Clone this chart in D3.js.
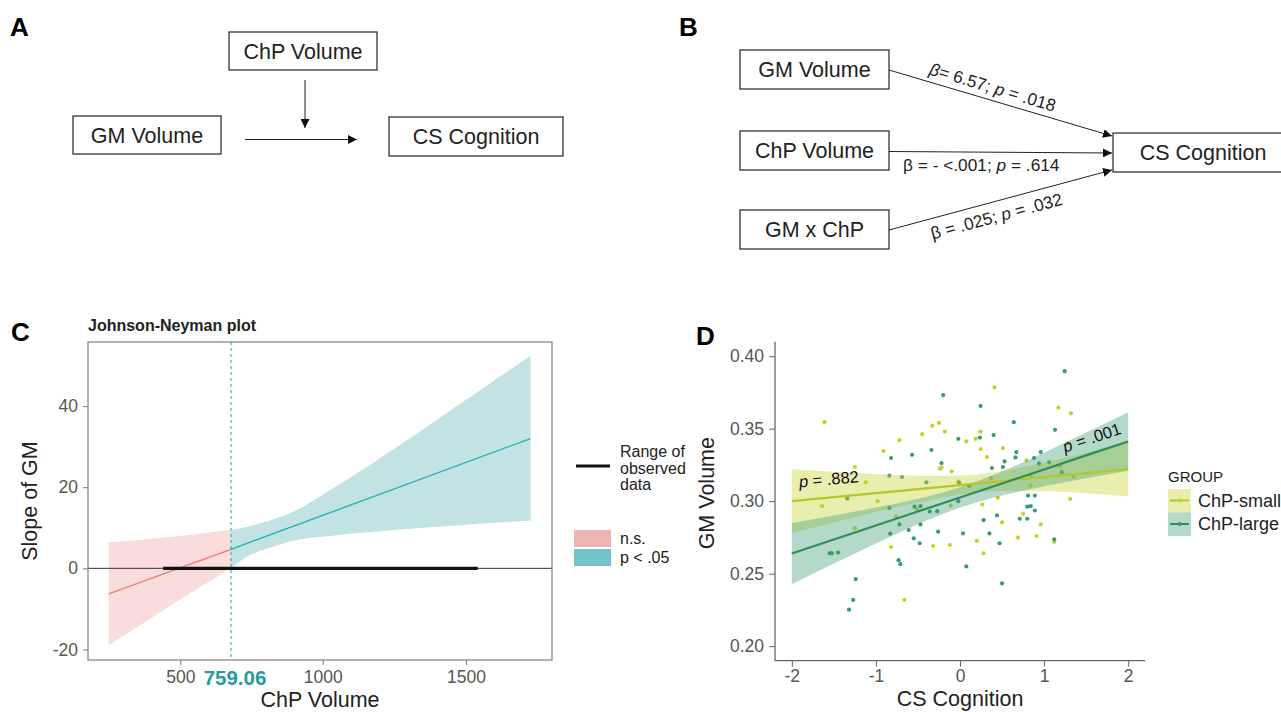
<!DOCTYPE html>
<html>
<head>
<meta charset="utf-8">
<script src="https://cdnjs.cloudflare.com/ajax/libs/d3/7.8.5/d3.min.js"></script>
<style>
  body { margin: 0; background: #fff; }
  svg { display: block; font-family: "Liberation Sans", Arial, sans-serif; }
</style>
</head>
<body>
<svg width="1281" height="712"></svg>
<script>
//// DATA ////

// panel C : Johnson-Neyman (slope of GM over ChP volume)
var jnBoundary = 759.06;
var nsX = [250, 323, 500, 759.06];
var nsLower = [-18.9, -15.7, -7.7, 0];
var nsUpper = [6.4, 6.8, 8.0, 9.5];
var sigX = [759.06, 809, 843, 932, 1026, 1260, 1490, 1725];
var sigLower = [0, 3.3, 4.5, 7.0, 8.0, 9.5, 10.7, 11.8];
var sigUpper = [9.5, 10.4, 11.3, 14.4, 19.3, 30.0, 41.1, 52.4];
var slopeX = [250, 759.06, 1725];
var slopeEst = [-6.3, 4.7, 32.0];
var observedRange = [440, 1541];
var cXTicks = [500, 1000, 1500];
var cYTicks = [-20, 0, 20, 40];

// panel D : GM volume vs CS cognition by group
var groups = ["ChP-small", "ChP-large"];
var bandX = [-2, -1.5, -1, -0.5, 0, 0.5, 1, 1.5, 2];
var smallFit = [0.300, 0.3028, 0.3056, 0.3083, 0.3111, 0.3139, 0.3167, 0.3194, 0.3222];
var smallLo = [0.278, 0.2853, 0.2925, 0.2991, 0.3045, 0.3070, 0.3068, 0.3054, 0.3032];
var smallHi = [0.322, 0.3203, 0.3187, 0.3175, 0.3177, 0.3208, 0.3266, 0.3334, 0.3412];
var largeFit = [0.2639, 0.2736, 0.2832, 0.2929, 0.3026, 0.3122, 0.3219, 0.3316, 0.3412];
var largeLo = [0.2428, 0.2570, 0.2708, 0.2841, 0.2956, 0.3039, 0.3103, 0.3159, 0.3210];
var largeHi = [0.2850, 0.2902, 0.2956, 0.3017, 0.3096, 0.3205, 0.3335, 0.3473, 0.3614];

var smallX = [-1.61, -0.33, -0.25, -0.18, -0.45, -0.72, -0.91, -0.24, -0.22, -0.10, -1.25, -1.12, -1.64,
  -0.98, -0.51, -0.76, -1.25, -0.82, -0.32, -0.12, -1.52, -0.66, 0.41, 1.17, 1.32, 0.245, 0.075, 0.186,
  0.245, 0.51, 0.32, 0.79, 1.28, 1.19, 0.84, 0.37, 1.35, 1.31, 0.75, 0.96, 0.69, 0.91, 1.12, 0.265, 0.45,
  0.28, 0.50, 0.20, 0.28, -0.02, -0.11, 0.84];
var smallY = [0.3545, 0.3521, 0.354, 0.348, 0.3462, 0.3421, 0.3346, 0.3224, 0.3231, 0.3206, 0.3236, 0.313, 0.2966,
  0.300, 0.2943, 0.2893, 0.2813, 0.2684, 0.2691, 0.2698, 0.264, 0.2319, 0.3785, 0.3645, 0.3606, 0.348, 0.3412, 0.343,
  0.336, 0.3366, 0.3305, 0.3281, 0.340, 0.3245, 0.3176, 0.316, 0.3171, 0.3016, 0.2914, 0.284, 0.2749, 0.276, 0.2719, 0.2977, 0.3023,
  0.287, 0.2854, 0.2726, 0.2641, 0.3135, 0.297, 0.311];
var largeX = [-0.20, -0.02, -0.34, -0.57, -0.82, -0.22, -0.84, -0.69, -0.40, -1.34, -0.84, -0.54, -0.47, -0.36,
  -0.27, -0.72, -0.47, -0.83, -0.61, -0.26, -0.55, -0.48, -1.55, -1.53, -1.45, -0.73, -0.71, -1.24, -1.27, -1.32,
  1.245, 0.245, 0.64, 1.13, 0.237, 0.40, 0.67, 0.66, 0.53, 0.88, 0.96, 0.94, 1.06, 0.38, 0.51, 1.21, -0.01, 0.11,
  0.81, 0.89, 0.80, 0.84, 0.89, 0.71, 0.80, 1.12, 0.50, 0.44, 0.28, 0.036, 0.35, 0.47, 0.075, -0.02];
var largeY = [0.3732, 0.343, 0.3353, 0.332, 0.3298, 0.3263, 0.3176, 0.3167, 0.313, 0.3019, 0.2954, 0.2962, 0.2966, 0.2929,
  0.2931, 0.284, 0.284, 0.2776, 0.2801, 0.279, 0.2744, 0.271, 0.2641, 0.2641, 0.2646, 0.2593, 0.2566, 0.2463, 0.2319, 0.2252,
  0.3897, 0.3657, 0.3545, 0.3492, 0.3439, 0.3456, 0.3339, 0.3302, 0.3274, 0.3298, 0.3339, 0.3259, 0.3268, 0.3229, 0.3236, 0.320, 0.3126, 0.3108,
  0.3039, 0.3039, 0.2962, 0.2966, 0.2936, 0.2879, 0.2879, 0.2737, 0.2433, 0.2902, 0.287, 0.2778, 0.2778, 0.271, 0.255, 0.300];
var dXTicks = [-2, -1, 0, 1, 2];
var dYTicks = [0.20, 0.25, 0.30, 0.35, 0.40];

var svg = d3.select("svg");
svg.append("rect").attr("width", 1281).attr("height", 712).attr("fill", "#fff");

// plain hyphen minus like the original figure
function hyphen(fmt) {
    return function (d) { return fmt(d).replace("\u2212", "-"); };
}

// arrow head marker
svg.append("defs").append("marker")
    .attr("id", "arrow")
    .attr("viewBox", "0 0 10 10")
    .attr("refX", 10).attr("refY", 5)
    .attr("markerWidth", 9).attr("markerHeight", 9)
    .attr("markerUnits", "userSpaceOnUse")
    .attr("orient", "auto")
    .append("path").attr("d", "M0,0 L10,5 L0,10 z").attr("fill", "#111");

// panel letters
[["A", 10, 36], ["B", 679, 36], ["C", 11, 341], ["D", 696, 345]].forEach(function (l) {
    svg.append("text").attr("x", l[1]).attr("y", l[2])
        .attr("font-size", 26).attr("font-weight", "bold").text(l[0]);
});

function box(x, y, w, h, label) {
    svg.append("rect").attr("x", x).attr("y", y).attr("width", w).attr("height", h)
        .attr("fill", "#fff").attr("stroke", "#333").attr("stroke-width", 1.3);
    svg.append("text").attr("x", x + w / 2).attr("y", y + h / 2 + 7.5)
        .attr("text-anchor", "middle").attr("font-size", 21.5).attr("fill", "#222").text(label);
}
function arrow(x1, y1, x2, y2) {
    svg.append("line").attr("x1", x1).attr("y1", y1).attr("x2", x2).attr("y2", y2)
        .attr("stroke", "#222").attr("stroke-width", 1).attr("marker-end", "url(#arrow)");
}

//// PANEL A ////
box(229, 32, 148, 38, "ChP Volume");
box(73, 116, 148, 38, "GM Volume");
box(389, 117, 174, 39, "CS Cognition");
arrow(305, 80, 305, 128);
arrow(245, 139.5, 357, 139.5);

//// PANEL B ////
box(740, 50, 149, 39, "GM Volume");
box(740, 131, 149, 39, "ChP Volume");
box(740, 210, 149, 39, "GM x ChP");
box(1113, 133, 180, 39, "CS Cognition");
arrow(889, 70, 1112, 136);
arrow(889, 151.5, 1112, 153);
arrow(889, 230, 1112, 170);

function pathLabel(x, y, angle, anchor, parts) {
    var t = svg.append("text").attr("transform", "translate(" + x + "," + y + ") rotate(" + angle + ")")
        .attr("text-anchor", anchor).attr("font-size", 17.3).attr("fill", "#222");
    parts.forEach(function (p) {
        t.append("tspan").attr("font-style", p[1] ? "italic" : "normal").text(p[0]);
    });
}
pathLabel(991, 93, 16.7, "middle", [["β", true], ["= 6.57; ", false], ["p", true], [" = .018", false]]);
pathLabel(903, 171, 0, "start", [["β = - <.001; ", false], ["p", true], [" = .614", false]]);
pathLabel(998, 222, -15, "middle", [["β = .025; ", false], ["p", true], [" = .032", false]]);

//// PANEL C ////
var cm = { left: 88, top: 342 }, cw = 464, ch = 318;
var cg = svg.append("g").attr("transform", "translate(" + cm.left + "," + cm.top + ")");

svg.append("text").attr("x", 88).attr("y", 331)
    .attr("font-size", 16).attr("font-weight", "bold").attr("fill", "#222").text("Johnson-Neyman plot");

// the figure's axis puts the boundary label between 500 and 1000 where it is drawn
var xc = d3.scaleLinear().domain([178, 500, 759.06, 1000, 1800]).range([0, 92.3, 143, 234.7, cw]);
var yc = d3.scaleLinear().domain([-22.6, 55.8]).range([ch, 0]);

var band = d3.area().curve(d3.curveMonotoneX)
    .x(function (d) { return xc(d.x); })
    .y0(function (d) { return yc(d.lo); }).y1(function (d) { return yc(d.hi); });

cg.append("path").datum(nsX.map(function (v, i) { return { x: v, lo: nsLower[i], hi: nsUpper[i] }; }))
    .attr("d", band).attr("fill", "#f9dddc");
cg.append("path").datum(sigX.map(function (v, i) { return { x: v, lo: sigLower[i], hi: sigUpper[i] }; }))
    .attr("d", band).attr("fill", "#c3e2e3");

var slopeLine = d3.line().x(function (d) { return xc(d[0]); }).y(function (d) { return yc(d[1]); });
cg.append("path").datum([[slopeX[0], slopeEst[0]], [slopeX[1], slopeEst[1]]])
    .attr("d", slopeLine).attr("fill", "none").attr("stroke", "#ee7b75").attr("stroke-width", 1.3);
cg.append("path").datum([[slopeX[1], slopeEst[1]], [slopeX[2], slopeEst[2]]])
    .attr("d", slopeLine).attr("fill", "none").attr("stroke", "#22b0ba").attr("stroke-width", 1.3);

// zero line and observed data range
cg.append("line").attr("x1", 0).attr("x2", cw).attr("y1", yc(0)).attr("y2", yc(0))
    .attr("stroke", "#333").attr("stroke-width", 1);
cg.append("line").attr("x1", xc(observedRange[0])).attr("x2", xc(observedRange[1]))
    .attr("y1", yc(0)).attr("y2", yc(0)).attr("stroke", "#111").attr("stroke-width", 3.2);

cg.append("line").attr("x1", xc(jnBoundary)).attr("x2", xc(jnBoundary)).attr("y1", 0).attr("y2", ch)
    .attr("stroke", "#2fb4bc").attr("stroke-width", 1.2).attr("stroke-dasharray", "3,3");

cg.append("rect").attr("width", cw).attr("height", ch)
    .attr("fill", "none").attr("stroke", "#7f7f7f").attr("stroke-width", 1.2);

var cxAxis = cg.append("g").attr("transform", "translate(0," + ch + ")")
    .call(d3.axisBottom(xc).tickValues(cXTicks).tickSize(5).tickPadding(6).tickFormat(d3.format("d")));
var cyAxis = cg.append("g")
    .call(d3.axisLeft(yc).tickValues(cYTicks).tickSize(5).tickPadding(5).tickFormat(hyphen(d3.format("d"))));
[cxAxis, cyAxis].forEach(function (a) {
    a.select(".domain").remove();
    a.selectAll(".tick line").attr("stroke", "#7f7f7f");
    a.selectAll(".tick text").attr("fill", "#555").attr("font-size", 17.5)
        .attr("font-family", "Liberation Sans, Arial, sans-serif");
});
cg.append("text").attr("x", xc(jnBoundary) + 4).attr("y", ch + 25)
    .attr("text-anchor", "middle").attr("font-size", 20.5).attr("font-weight", "bold")
    .attr("fill", "#2a9a9f").text(jnBoundary.toFixed(2));

cg.append("text").attr("x", 232).attr("y", ch + 47).attr("text-anchor", "middle")
    .attr("font-size", 21.5).attr("fill", "#222").text("ChP Volume");
cg.append("text").attr("transform", "translate(-51," + (ch / 2) + ") rotate(-90)")
    .attr("text-anchor", "middle").attr("font-size", 21.5).attr("fill", "#222").text("Slope of GM");

// legend C
svg.append("line").attr("x1", 576).attr("x2", 610).attr("y1", 466).attr("y2", 466)
    .attr("stroke", "#111").attr("stroke-width", 3.2);
["Range of", "observed", "data"].forEach(function (s, i) {
    svg.append("text").attr("x", 620).attr("y", 457 + i * 16.5).attr("font-size", 16)
        .attr("fill", "#222").text(s);
});
[["n.s.", "#efb4b1"], ["p < .05", "#72c3c7"]].forEach(function (k, i) {
    svg.append("rect").attr("x", 574).attr("y", 530 + i * 19).attr("width", 37).attr("height", 17)
        .attr("fill", k[1]);
    svg.append("text").attr("x", 620).attr("y", 544 + i * 19).attr("font-size", 16)
        .attr("fill", "#222").text(k[0]);
});

//// PANEL D ////
var dm = { left: 775, top: 341.7 }, dw = 370, dh = 319;
var dg = svg.append("g").attr("transform", "translate(" + dm.left + "," + dm.top + ")");

var xd = d3.scaleLinear().domain([-2.2, 2.2]).range([0, dw]);
var yd = d3.scaleLinear().domain([0.19, 0.41]).range([dh, 0]);

var colors = { "ChP-small": "#c4d12a", "ChP-large": "#3a9a70" };
var lineColors = { "ChP-small": "#b3c828", "ChP-large": "#2e8b5a" };

var points = smallX.map(function (v, i) { return { x: v, y: smallY[i], g: "ChP-small" }; })
    .concat(largeX.map(function (v, i) { return { x: v, y: largeY[i], g: "ChP-large" }; }));

dg.selectAll(".pt").data(points).enter().append("circle")
    .attr("class", "pt")
    .attr("cx", function (d) { return xd(d.x); })
    .attr("cy", function (d) { return yd(d.y); })
    .attr("r", 2.1)
    .attr("fill", function (d) { return colors[d.g]; });

var fits = [
    { g: "ChP-small", fit: smallFit, lo: smallLo, hi: smallHi },
    { g: "ChP-large", fit: largeFit, lo: largeLo, hi: largeHi }
];
var dBand = d3.area().curve(d3.curveMonotoneX)
    .x(function (d) { return xd(d.x); })
    .y0(function (d) { return yd(d.lo); }).y1(function (d) { return yd(d.hi); });
var dLine = d3.line().x(function (d) { return xd(d.x); }).y(function (d) { return yd(d.fit); });

fits.forEach(function (f) {
    var rows = bandX.map(function (v, i) { return { x: v, fit: f.fit[i], lo: f.lo[i], hi: f.hi[i] }; });
    dg.append("path").datum(rows).attr("d", dBand)
        .attr("fill", colors[f.g]).attr("fill-opacity", 0.38);
});
fits.forEach(function (f) {
    var rows = bandX.map(function (v, i) { return { x: v, fit: f.fit[i] }; });
    dg.append("path").datum(rows).attr("d", dLine)
        .attr("fill", "none").attr("stroke", lineColors[f.g]).attr("stroke-width", 2.2);
});

function pLabel(x, y, angle, val) {
    var t = dg.append("text")
        .attr("transform", "translate(" + xd(x) + "," + yd(y) + ") rotate(" + angle + ")")
        .attr("font-size", 16.5).attr("fill", "#111");
    t.append("tspan").attr("font-style", "italic").text("p");
    t.append("tspan").text(" = " + val);
}
pLabel(-1.91, 0.3095, -5, ".882");
pLabel(1.25, 0.3335, -18.5, ".001");

var dxAxis = dg.append("g").attr("transform", "translate(0," + dh + ")")
    .call(d3.axisBottom(xd).tickValues(dXTicks).tickSize(6).tickPadding(3).tickFormat(hyphen(d3.format("d"))));
var dyAxis = dg.append("g")
    .call(d3.axisLeft(yd).tickValues(dYTicks).tickSize(6).tickPadding(5).tickFormat(d3.format(".2f")));
[dxAxis, dyAxis].forEach(function (a) {
    a.select(".domain").attr("stroke", "#666").attr("stroke-width", 1.3);
    a.selectAll(".tick line").attr("stroke", "#666");
    a.selectAll(".tick text").attr("fill", "#555").attr("font-size", 17.5)
        .attr("font-family", "Liberation Sans, Arial, sans-serif");
});
// ggplot style axis line without end caps
dxAxis.select(".domain").attr("d", "M0,0H" + dw);
dyAxis.select(".domain").attr("d", "M0,0V" + dh);

dg.append("text").attr("x", xd(0)).attr("y", dh + 45).attr("text-anchor", "middle")
    .attr("font-size", 21.5).attr("fill", "#222").text("CS Cognition");
dg.append("text").attr("transform", "translate(-61," + (yd(0.30) - 8) + ") rotate(-90)")
    .attr("text-anchor", "middle").attr("font-size", 21.5).attr("fill", "#222").text("GM Volume");

// legend D
svg.append("text").attr("x", 1168).attr("y", 482).attr("font-size", 15).attr("fill", "#222").text("GROUP");
groups.forEach(function (g, i) {
    var ky = 489 + i * 23.5;
    svg.append("rect").attr("x", 1168).attr("y", ky).attr("width", 23).attr("height", 23.5)
        .attr("fill", colors[g]).attr("fill-opacity", 0.38);
    svg.append("line").attr("x1", 1170).attr("x2", 1189).attr("y1", ky + 11.5).attr("y2", ky + 11.5)
        .attr("stroke", lineColors[g]).attr("stroke-width", 2);
    svg.append("circle").attr("cx", 1179.5).attr("cy", ky + 11.5).attr("r", 2).attr("fill", colors[g]);
    svg.append("text").attr("x", 1198).attr("y", ky + 17.5).attr("font-size", 18)
        .attr("fill", "#222").text(g);
});
</script>
</body>
</html>
